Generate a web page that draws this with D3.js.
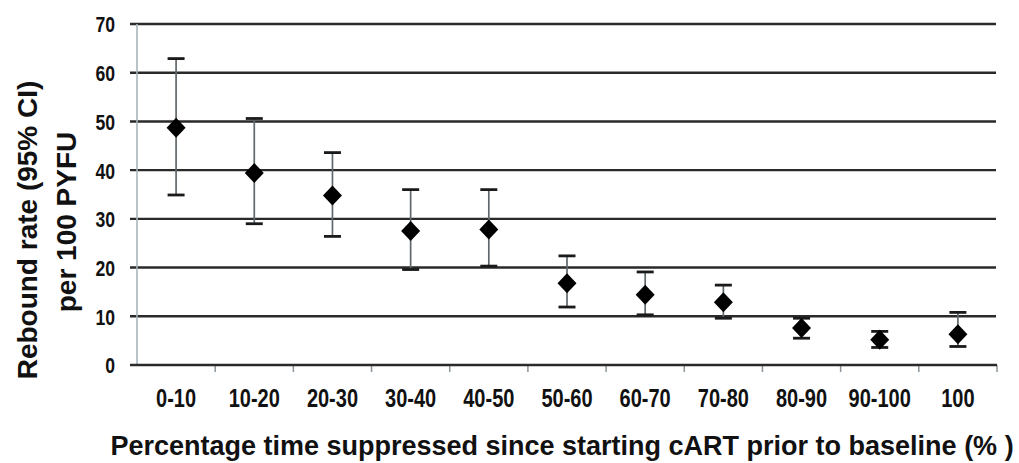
<!DOCTYPE html>
<html><head><meta charset="utf-8">
<script src="https://cdn.jsdelivr.net/npm/d3@7"></script>
<style>body{margin:0;background:#fff}svg{display:block}</style>
</head><body>
<svg id="c" width="1019" height="463"></svg>
<script>
const categories = ["0-10","10-20","20-30","30-40","40-50","50-60","60-70","70-80","80-90","90-100","100"];
const rate  = [48.7, 39.4, 34.8, 27.5, 27.8, 16.8, 14.4, 12.9, 7.6, 5.2, 6.3];
const upper = [62.9, 50.6, 43.6, 36.0, 36.0, 22.4, 19.1, 16.4, 9.6, 6.9, 10.8];
const lower = [34.9, 29.0, 26.4, 19.6, 20.3, 11.9, 10.3, 9.6, 5.5, 3.6, 3.8];
const yTicks = [0,10,20,30,40,50,60,70];
const xTitle = "Percentage time suppressed since starting cART prior to baseline (% )";
const yTitle1 = "Rebound rate (95% CI)";
const yTitle2 = "per 100 PYFU";

const svg = d3.select("#c");
const L = 137, R = 997, T = 24, B = 365;
const x = d3.scaleBand().domain(categories).range([L, R]).paddingInner(0).paddingOuter(0);
const y = d3.scaleLinear().domain([0,70]).range([B, T]);
const sans = "'Liberation Sans',Arial,Helvetica,sans-serif";
const sx = 0.8; // horizontal condensing for tick labels

// horizontal gridlines (extend slightly left of axis like tick marks)
svg.append("g").selectAll("line").data(yTicks.filter(d=>d>0)).join("line")
  .attr("x1", L-7).attr("x2", R-1).attr("y1", d=>y(d)).attr("y2", d=>y(d))
  .attr("stroke", "#2a2a2a").attr("stroke-width", 2.4);

// y axis vertical line
svg.append("line").attr("x1", L).attr("x2", L).attr("y1", T).attr("y2", B)
  .attr("stroke", "#a9b4bb").attr("stroke-width", 1.6);

// y tick labels
const yAxis = d3.axisLeft(y).tickValues(yTicks).tickSize(0).tickPadding(22);
const gy = svg.append("g").attr("transform", `translate(${L},0)`).call(yAxis);
gy.select(".domain").remove();
gy.selectAll("text").attr("font-family", sans).attr("font-weight", "bold")
  .attr("font-size", 22).attr("fill", "#111").attr("dy", "0.36em")
  .attr("x", -22/sx).attr("transform", `scale(${sx},1)`);

// x axis
const boundaries = categories.map(c => x(c)).concat([R]).slice(1);
svg.append("g").selectAll("line").data(boundaries).join("line")
  .attr("x1", d=>d).attr("x2", d=>d).attr("y1", B).attr("y2", B+7)
  .attr("stroke", "#8a949a").attr("stroke-width", 1.5);
svg.append("line").attr("x1", L-7).attr("x2", R).attr("y1", B).attr("y2", B)
  .attr("stroke", "#2a2a2a").attr("stroke-width", 2.4);
const xAxis = d3.axisBottom(x).tickSize(0).tickPadding(0);
const gx = svg.append("g").attr("transform", `translate(0,${B})`).call(xAxis);
gx.select(".domain").remove();
gx.selectAll("text").attr("font-family", sans).attr("font-weight", "bold")
  .attr("font-size", 25).attr("fill", "#111").attr("y", 42).attr("dy", 0)
  .attr("transform", `scale(${sx},1)`);

// error bars
const data = categories.map((c,i)=>({c, v:rate[i], hi:upper[i], lo:lower[i]}));
const cx = d => x(d.c) + x.bandwidth()/2;
const g = svg.append("g");
g.selectAll("line.w").data(data).join("line").attr("class","w")
  .attr("x1", cx).attr("x2", cx).attr("y1", d=>y(d.hi)).attr("y2", d=>y(d.lo))
  .attr("stroke", "#5f686c").attr("stroke-width", 1.7);
["hi","lo"].forEach(k=>{
  g.selectAll("line.cap"+k).data(data).join("line").attr("class","cap"+k)
    .attr("x1", d=>cx(d)-8.5).attr("x2", d=>cx(d)+8.5)
    .attr("y1", d=>y(d[k])).attr("y2", d=>y(d[k]))
    .attr("stroke", "#1a1a1a").attr("stroke-width", 2.8);
});
// diamonds
g.selectAll("path.m").data(data).join("path").attr("class","m")
  .attr("d", d=>{const X=cx(d), Y=y(d.v), w=9.5, h=10; return `M${X},${Y-h}L${X+w},${Y}L${X},${Y+h}L${X-w},${Y}Z`;})
  .attr("fill", "#000");

// titles
svg.append("text").attr("x", 562).attr("y", 455).attr("text-anchor","middle")
  .attr("font-family", sans).attr("font-weight","bold").attr("font-size", 27)
  .attr("fill","#111").text(xTitle);
svg.append("text").attr("transform","translate(37,230) rotate(-90)").attr("text-anchor","middle")
  .attr("font-family", sans).attr("font-weight","bold").attr("font-size", 28)
  .attr("fill","#111").text(yTitle1);
svg.append("text").attr("transform","translate(76,222) rotate(-90)").attr("text-anchor","middle")
  .attr("font-family", sans).attr("font-weight","bold").attr("font-size", 28)
  .attr("fill","#111").text(yTitle2);
</script>
</body></html>
